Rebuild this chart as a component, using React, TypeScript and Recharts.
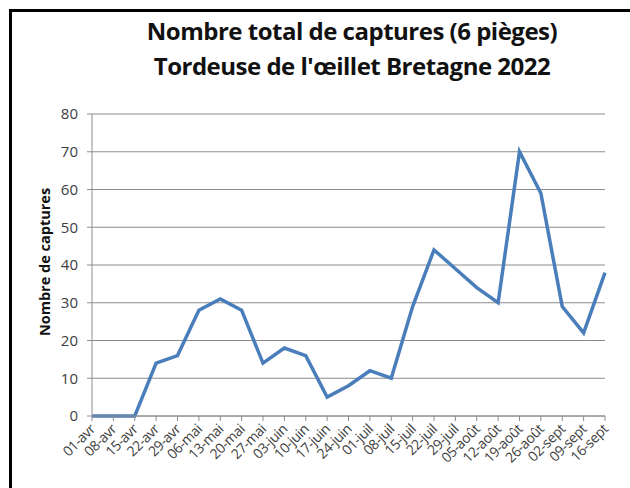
import { CartesianGrid, Line, LineChart, XAxis, YAxis } from 'recharts'

const dates = [
  '01-avr', '08-avr', '15-avr', '22-avr', '29-avr', '06-mai', '13-mai', '20-mai', '27-mai',
  '03-juin', '10-juin', '17-juin', '24-juin', '01-juil', '08-juil', '15-juil', '22-juil', '29-juil',
  '05-août', '12-août', '19-août', '26-août', '02-sept', '09-sept', '16-sept',
]
const captures = [0, 0, 0, 14, 16, 28, 31, 28, 14, 18, 16, 5, 8, 12, 10, 29, 44, 39, 34, 30, 70, 59, 29, 22, 38]
const yTicks = [0, 10, 20, 30, 40, 50, 60, 70, 80]

const data = dates.map((date, i) => ({ date, captures: captures[i] }))

const font = '"Open Sans", sans-serif'

function DateTick(props: any) {
  const { x, y, payload } = props
  return (
    <text
      x={x + 4}
      y={y + 7}
      textAnchor="end"
      fontSize={14}
      letterSpacing={-0.4}
      fontFamily={font}
      fill="#404040"
      transform={`rotate(-45 ${x + 4} ${y + 7})`}
    >
      {payload.value}
    </text>
  )
}

export default function App() {
  return (
    <div style={{ position: 'absolute', left: 0, top: 0, width: 630, height: 488, background: '#fff' }}>
      <div
        style={{
          position: 'absolute', left: 9, top: 9, width: 630, height: 488,
          borderLeft: '3px solid #000', borderTop: '3px solid #000',
        }}
      />
      <div
        style={{
          position: 'absolute', left: 57, width: 590, top: 13, textAlign: 'center',
          fontFamily: font, fontWeight: 700, fontSize: 24, letterSpacing: -0.5,
          lineHeight: '35px', color: '#111',
        }}
      >
        Nombre total de captures (6 pièges)
        <br />
        Tordeuse de l'œillet Bretagne 2022
      </div>
      <div
        style={{
          position: 'absolute', left: 44, top: 262, transform: 'translate(-50%, -50%) rotate(-90deg)',
          whiteSpace: 'nowrap', fontFamily: font, fontWeight: 700, fontSize: 14.5, color: '#111',
        }}
      >
        Nombre de captures
      </div>
      <LineChart
        width={630}
        height={488}
        data={data}
        margin={{ top: 114, right: 25, bottom: 0, left: 30 }}
        style={{ position: 'absolute', left: 0, top: 0 }}
      >
        <CartesianGrid vertical={false} stroke="#8c8c8c" />
        <XAxis
          dataKey="date"
          interval={0}
          height={72}
          stroke="#8c8c8c"
          tickSize={5}
          tick={<DateTick />}
        />
        <YAxis
          width={62}
          domain={[0, 80]}
          ticks={yTicks}
          interval={0}
          stroke="#8c8c8c"
          tickSize={5}
          tickMargin={9}
          tick={{ fontSize: 15, fontFamily: font, fill: '#404040' }}
        />
        <Line
          dataKey="captures"
          stroke="#4a7ebb"
          strokeWidth={3.5}
          dot={false}
          isAnimationActive={false}
        />
      </LineChart>
    </div>
  )
}
